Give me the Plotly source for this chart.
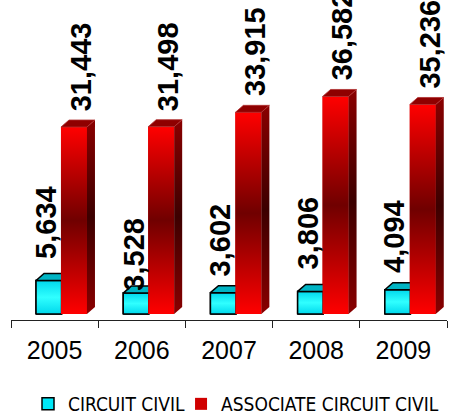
import plotly.graph_objects as go

years = ["2005", "2006", "2007", "2008", "2009"]
circuit_civil = [5634, 3528, 3602, 3806, 4094]
associate_circuit_civil = [31443, 31498, 33915, 36582, 35236]

# layout / style constants
Y_MIN, Y_MAX = -1000, 52800
PLOT_H = 320
K = PLOT_H / (Y_MAX - Y_MIN)          # px per data unit
DX = 0.092                            # depth offset (category units)
DY = 7 / K                            # depth offset (data units)
CY_OFF, CY_W = -0.213, 0.293
RD_OFF, RD_W = 0.073, 0.298
CY_LABEL_GAP = [20, 0, 14, 20, 15]
RD_LABEL_GAP = 14

xs = list(range(len(years)))
fig = go.Figure()

fig.add_trace(go.Bar(x=xs, y=circuit_civil, name="CIRCUIT CIVIL", offset=CY_OFF, width=CY_W,
                     marker=dict(color="#00E8F8", line=dict(color="black", width=1.5)),
                     hoverinfo="skip", legend="legend"))
fig.add_trace(go.Bar(x=xs, y=associate_circuit_civil, name="ASSOCIATE CIRCUIT CIVIL",
                     offset=RD_OFF, width=RD_W,
                     marker=dict(color="#D00000", line=dict(width=0)), hoverinfo="skip",
                     legend="legend2"))

def poly(px, py, **kw):
    fig.add_trace(go.Scatter(x=px + [px[0]], y=py + [py[0]], mode="lines", fill="toself",
                             showlegend=False, hoverinfo="skip", **kw))

# cyan: front overlay + top face
for i, v in zip(xs, circuit_civil):
    x0, x1 = i + CY_OFF, i + CY_OFF + CY_W
    poly([x0, x1, x1, x0], [0, 0, v, v],
         line=dict(color="black", width=1.5),
         fillgradient=dict(type="vertical",
                           colorscale=[[0, "#00D8EC"], [0.5, "#30FFFF"], [1, "#00D8EC"]]))
    poly([x0, x1, x1 + DX, x0 + DX], [v, v, v + DY, v + DY],
         line=dict(color="black", width=1.5), fillcolor="#00B4C4")

# red: front, side, top
for i, v in zip(xs, associate_circuit_civil):
    x0, x1 = i + RD_OFF, i + RD_OFF + RD_W
    poly([x0, x1, x1, x0], [0, 0, v, v], line=dict(width=0),
         fillgradient=dict(type="vertical",
                           colorscale=[[0, "#FF0000"], [0.5, "#700000"], [1, "#FF0000"]]))
    poly([x1, x1 + DX, x1 + DX, x1], [0, DY, v + DY, v], line=dict(width=0),
         fillgradient=dict(type="vertical",
                           colorscale=[[0, "#8A0000"], [0.5, "#3C0000"], [1, "#8A0000"]]))
    poly([x0, x1, x1 + DX, x0 + DX], [v, v, v + DY, v + DY],
         line=dict(color="#B03030", width=0.8), fillcolor="#8E0000")

ann = []
lab_font = dict(family="Liberation Sans, Arial, sans-serif", size=29, color="black")
for i, v, g in zip(xs, circuit_civil, CY_LABEL_GAP):
    ann.append(dict(x=i - 0.10, y=v, text=f"<b>{v:,}</b>", showarrow=False, textangle=-90,
                    yanchor="bottom", xanchor="center", yshift=g, font=lab_font))
for i, v in zip(xs, associate_circuit_civil):
    ann.append(dict(x=i + 0.30, y=v, text=f"<b>{v:,}</b>", showarrow=False, textangle=-90,
                    yanchor="bottom", xanchor="center", yshift=RD_LABEL_GAP, font=lab_font))

leg_font = dict(family="Liberation Sans Narrow, DejaVu Sans Condensed, sans-serif",
                size=19, color="black")

fig.update_layout(
    width=449, height=418,
    margin=dict(l=11, r=2, t=0, b=418 - PLOT_H, autoexpand=False),
    plot_bgcolor="white", paper_bgcolor="white",
    barmode="overlay",
    annotations=ann,
    showlegend=True,
    legend=dict(orientation="h", x=0.039, xanchor="left", y=-0.2625, yanchor="middle",
                font=leg_font, itemclick=False, bgcolor="rgba(0,0,0,0)"),
    legend2=dict(orientation="h", x=0.39, xanchor="left", y=-0.2625, yanchor="middle",
                 font=leg_font, itemclick=False, bgcolor="rgba(0,0,0,0)"),
    xaxis=dict(range=[-0.5, len(years) - 0.5], tickvals=xs, ticktext=years, ticks="",
               showgrid=False, zeroline=False, showline=True, linecolor="#222", linewidth=1,
               ticklabelstandoff=8,
               tickfont=dict(family="Liberation Sans, Arial, sans-serif", size=25, color="black"),
               minor=dict(tickvals=[i - 0.5 for i in range(len(years) + 1)], ticks="outside",
                          ticklen=7, tickcolor="#222", tickwidth=1, showgrid=False)),
    yaxis=dict(range=[Y_MIN, Y_MAX], visible=False, showgrid=False, zeroline=False),
)

fig.write_html("out.html", config={"displayModeBar": False})
with open("out.html", encoding="utf-8") as f:
    html = f.read()
html = html.replace("<body>", '<body style="margin:0;padding:0;overflow:hidden">', 1)
with open("out.html", "w", encoding="utf-8") as f:
    f.write(html)
